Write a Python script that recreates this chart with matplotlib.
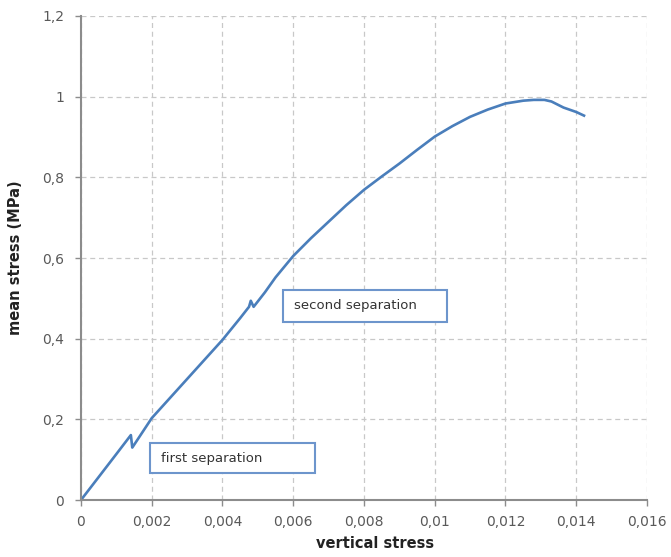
import matplotlib.pyplot as plt
from matplotlib.patches import Rectangle
from matplotlib.ticker import FuncFormatter

# curve (two small drops at the separations)
strain = [0, 0.0005, 0.001, 0.00141, 0.00145, 0.002, 0.003, 0.004, 0.0045, 0.00475,
          0.0048, 0.00488, 0.0052, 0.0055, 0.006, 0.0065, 0.007, 0.0075, 0.008,
          0.0085, 0.009, 0.0095, 0.010, 0.0105, 0.011, 0.0115, 0.012, 0.0125,
          0.0128, 0.0131, 0.0133, 0.01364, 0.014, 0.01422]
stress = [0, 0.057, 0.114, 0.161, 0.130, 0.203, 0.300, 0.397, 0.451, 0.479,
          0.494, 0.479, 0.515, 0.552, 0.605, 0.649, 0.690, 0.731, 0.769,
          0.802, 0.834, 0.868, 0.901, 0.927, 0.950, 0.968, 0.983, 0.990,
          0.992, 0.992, 0.988, 0.973, 0.962, 0.953]
notes = ["first separation", "second separation"]

line_color = "#4a7ebb"
text_color = "#595959"

fig = plt.figure(figsize=(6.71, 5.57), dpi=100)
ax = fig.add_axes([0.1207, 0.1023, 0.8435, 0.869])

ax.plot(strain, stress, color=line_color, linewidth=1.9, solid_joinstyle="round")

ax.set_xlim(0, 0.016)
ax.set_ylim(0, 1.2)
ax.set_xticks([i * 0.002 for i in range(9)])
ax.set_yticks([i * 0.2 for i in range(7)])

def comma(v, pos):
    s = "%g" % round(v, 4)
    return s.replace(".", ",")

ax.xaxis.set_major_formatter(FuncFormatter(comma))
ax.yaxis.set_major_formatter(FuncFormatter(comma))

ax.grid(True, linestyle=(0, (4, 3)), color="#c8c8c8", linewidth=0.9)
ax.set_axisbelow(True)
for side in ["top", "right"]:
    ax.spines[side].set_visible(False)
for side in ["left", "bottom"]:
    ax.spines[side].set_color("#8c8c8c")
    ax.spines[side].set_linewidth(1.5)
ax.tick_params(colors="#8c8c8c", labelcolor=text_color, labelsize=10, length=4, width=1)
ax.tick_params(axis="x", pad=7)
ax.tick_params(axis="y", pad=8)

ax.set_xlabel("vertical stress", fontsize=10.5, fontweight="bold", color="#222222")
ax.xaxis.set_label_coords(0.52, -0.075)
ax.set_ylabel("mean stress (MPa)", fontsize=10.5, fontweight="bold", color="#222222", labelpad=14)

# annotation boxes (data coordinates: x0, y0, width, height)
boxes = [(0.00195, 0.067, 0.00467, 0.074), (0.00571, 0.442, 0.00464, 0.079)]
for txt, (x0, y0, w, h) in zip(notes, boxes):
    ax.add_patch(Rectangle((x0, y0), w, h, facecolor="white", edgecolor="#6d95cc",
                           linewidth=1.5, zorder=3))
    ax.text(x0 + 0.00031, y0 + h / 2, txt, fontsize=9.5, color="#333333",
            va="center", ha="left", zorder=4)

fig.savefig("out.png", dpi=100)
